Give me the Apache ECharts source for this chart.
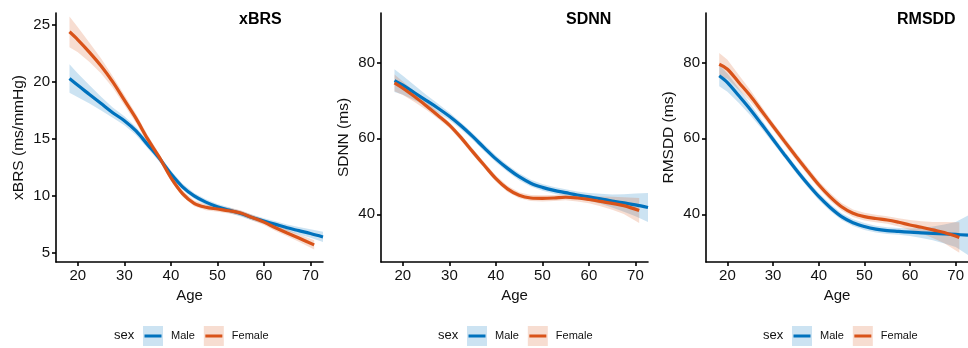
<!DOCTYPE html>
<html><head><meta charset="utf-8">
<script src="https://cdn.jsdelivr.net/npm/echarts@6/dist/echarts.min.js"></script>
<style>html,body{margin:0;padding:0;background:#fff}#c{width:968px;height:348px}</style>
</head><body><div id="c"></div>
<script>
// ---------- data ----------
const agesFemale = [18.2,20,22.5,25,27.5,30,32.5,35,37.5,40,42.5,45,47.5,50,52.5,55,57.5,60,62.5,65,67.5,70.8];
const agesMale   = [18.2,20,22.5,25,27.5,30,32.5,35,37.5,40,42.5,45,47.5,50,52.5,55,57.5,60,62.5,65,67.5,70,72.7];

const xbrsFemale   = [24.4,23.7,22.6,21.4,20.0,18.4,16.8,15.0,13.4,11.6,10.2,9.35,9.0,8.85,8.7,8.5,8.1,7.7,7.2,6.75,6.3,5.7];
const xbrsFemaleCi = [1.35,1.1,0.85,0.65,0.5,0.45,0.4,0.35,0.3,0.3,0.28,0.25,0.25,0.25,0.25,0.25,0.25,0.25,0.27,0.3,0.33,0.4];
const xbrsMale     = [20.3,19.7,18.9,18.1,17.3,16.6,15.7,14.5,13.3,11.95,10.8,10.0,9.45,9.05,8.75,8.45,8.1,7.8,7.5,7.2,6.95,6.7,6.4];
const xbrsMaleCi   = [1.25,1.05,0.8,0.6,0.45,0.4,0.35,0.32,0.3,0.28,0.27,0.25,0.25,0.25,0.25,0.25,0.25,0.25,0.27,0.3,0.33,0.37,0.45];

const sdnnFemale   = [74.6,73.2,71.0,68.6,66.1,63.5,60.2,56.5,52.9,49.4,46.7,45.0,44.3,44.2,44.3,44.5,44.3,43.9,43.4,42.9,42.3,41.0];
const sdnnFemaleCi = [2.2,1.8,1.4,1.1,0.9,0.8,0.8,0.8,0.8,0.8,0.8,0.8,0.8,0.8,0.8,0.8,0.9,1.0,1.3,1.7,2.2,3.3];
const sdnnMale     = [75.2,74.0,72.0,70.0,68.0,65.8,63.3,60.5,57.5,54.6,52.1,49.9,48.2,47.1,46.3,45.7,45.1,44.6,44.1,43.5,43.0,42.5,41.8];
const sdnnMaleCi   = [3.0,2.5,2.0,1.5,1.2,1.0,0.9,0.9,0.9,0.9,0.9,0.9,0.9,0.9,0.9,0.9,0.9,1.0,1.3,1.7,2.3,3.0,3.8];

const rmssdFemale   = [79.5,78.2,74.7,71.2,67.2,63.2,59.2,55.3,51.5,47.8,44.6,42.0,40.3,39.4,38.9,38.5,37.9,37.2,36.6,35.9,35.2,33.9];
const rmssdFemaleCi = [3.0,2.5,2.0,1.5,1.2,1.0,1.0,1.0,1.0,1.0,1.0,1.0,1.0,1.0,1.0,1.0,1.1,1.3,1.6,2.1,2.8,4.0];
const rmssdMale     = [76.5,74.7,71.2,67.6,63.7,59.7,55.7,51.8,48.1,44.7,41.8,39.4,37.8,36.8,36.1,35.7,35.5,35.3,35.1,35.0,34.85,34.7,34.5];
const rmssdMaleCi   = [2.8,2.4,1.9,1.5,1.2,1.0,0.9,0.9,0.9,0.9,0.9,0.9,0.9,0.9,0.9,0.9,0.9,1.0,1.3,1.8,2.5,3.3,5.2];

const xTicks = [20,30,40,50,60,70];
const yTicksXbrs = [5,10,15,20,25];
const yTicksHrv = [40,60,80];
const panelTitles = ['xBRS','SDNN','RMSDD'];
const yNames = ['xBRS (ms/mmHg)','SDNN (ms)','RMSDD (ms)'];

// ---------- layout / style ----------
const FONT = "'Liberation Sans', Arial, sans-serif";
const BLUE = '#0072BD', RED = '#D95319';
const BLUE_F = 'rgba(0,114,189,0.2)', RED_F = 'rgba(217,83,25,0.2)';
const gridLeft = [56, 381, 706];
const gridW = 267;
const yRanges = [[4.2, 26.05], [27.45, 93], [27.45, 93]];
const yTickSets = [yTicksXbrs, yTicksHrv, yTicksHrv];
const titleLeft = [239, 566, 897];
const legendLeft = [143, 467, 792];
const sexLeft = [114, 438, 763];
const panelData = [
  [xbrsMale, xbrsMaleCi, xbrsFemale, xbrsFemaleCi],
  [sdnnMale, sdnnMaleCi, sdnnFemale, sdnnFemaleCi],
  [rmssdMale, rmssdMaleCi, rmssdFemale, rmssdFemaleCi]
];

function band(i, name, ages, mean, ci, fill) {
  const pts = ages.map((a, k) => [a, mean[k] - ci[k], mean[k] + ci[k]]);
  return {
    type: 'custom', name: name, xAxisIndex: i, yAxisIndex: i, silent: true, z: 1,
    data: pts, encode: { x: 0, y: [1, 2] },
    renderItem: function (params, api) {
      if (params.dataIndex !== 0) return;
      const up = pts.map(p => api.coord([p[0], p[2]]));
      const lo = pts.map(p => api.coord([p[0], p[1]])).reverse();
      return { type: 'polygon', shape: { points: up.concat(lo) }, style: { fill: fill } };
    }
  };
}
function line(i, name, ages, mean, color, z) {
  return {
    type: 'line', name: name, xAxisIndex: i, yAxisIndex: i, z: z, silent: true,
    data: ages.map((a, k) => [a, mean[k]]),
    showSymbol: false, smooth: 0.35,
    lineStyle: { color: color, width: 3.2 }, itemStyle: { color: color }
  };
}

const grid = [], xAxis = [], yAxis = [], series = [], title = [], legend = [];
const axisLineStyle = { color: '#000', width: 1.6 };
for (let i = 0; i < 3; i++) {
  grid.push({ left: gridLeft[i], top: 13, width: gridW, height: 249 });
  xAxis.push({
    type: 'value', gridIndex: i, min: 15.3, max: 72.7,
    name: 'Age', nameLocation: 'middle', nameGap: 25,
    nameTextStyle: { fontFamily: FONT, fontSize: 15, color: '#111' },
    axisLine: { lineStyle: axisLineStyle },
    axisTick: { length: 4, lineStyle: axisLineStyle, customValues: xTicks },
    axisLabel: { fontFamily: FONT, fontSize: 15, color: '#111', margin: 6, customValues: xTicks },
    splitLine: { show: false }
  });
  yAxis.push({
    type: 'value', gridIndex: i, min: yRanges[i][0], max: yRanges[i][1],
    name: yNames[i], nameLocation: 'middle', nameGap: 29,
    nameTextStyle: { fontFamily: FONT, fontSize: 15.5, color: '#111' },
    axisLine: { show: true, lineStyle: axisLineStyle },
    axisTick: { show: true, length: 4, lineStyle: axisLineStyle, customValues: yTickSets[i] },
    axisLabel: { fontFamily: FONT, fontSize: 15, color: '#111', margin: 6, customValues: yTickSets[i] },
    splitLine: { show: false }
  });
  const d = panelData[i];
  series.push(band(i, 'Male', agesMale, d[0], d[1], BLUE_F));
  series.push(band(i, 'Female', agesFemale, d[2], d[3], RED_F));
  series.push(line(i, 'Male', agesMale, d[0], BLUE, 3));
  series.push(line(i, 'Female', agesFemale, d[2], RED, 4));
  title.push({
    text: panelTitles[i], left: titleLeft[i], top: 12, padding: 0,
    textStyle: { fontFamily: FONT, fontSize: 16, fontWeight: 'bold', color: '#000' }
  });
  title.push({
    text: 'sex', left: sexLeft[i], top: 329, padding: 0,
    textStyle: { fontFamily: FONT, fontSize: 13, fontWeight: 'normal', color: '#111' }
  });
  legend.push({
    left: legendLeft[i], top: 326, padding: 0, itemWidth: 20, itemHeight: 20, itemGap: 9,
    selectedMode: false, icon: 'rect',
    itemStyle: { borderWidth: 0 },
    data: [{ name: 'Male', itemStyle: { color: BLUE_F } }, { name: 'Female', itemStyle: { color: RED_F } }],
    textStyle: { fontFamily: FONT, fontSize: 11, color: 'rgba(0,0,0,0)', padding: [0, 0, 0, 3] }
  });
  legend.push({
    left: legendLeft[i], top: 326, padding: 0, itemWidth: 20, itemHeight: 20, itemGap: 9,
    selectedMode: false,
    icon: 'path://M0,0L0.01,0L0.01,0.01Z M1.5,8.5L18.5,8.5L18.5,11.5L1.5,11.5Z M19.99,19.99L20,19.99L20,20Z',
    itemStyle: { borderWidth: 0 },
    data: [{ name: 'Male', itemStyle: { color: BLUE } }, { name: 'Female', itemStyle: { color: RED } }],
    textStyle: { fontFamily: FONT, fontSize: 11, color: '#111', padding: [0, 0, 0, 3] }
  });
}

const chart = echarts.init(document.getElementById('c'), null, { renderer: 'canvas' });
chart.setOption({ animation: false, backgroundColor: '#fff', grid, xAxis, yAxis, series, title, legend });
</script>
</body></html>
